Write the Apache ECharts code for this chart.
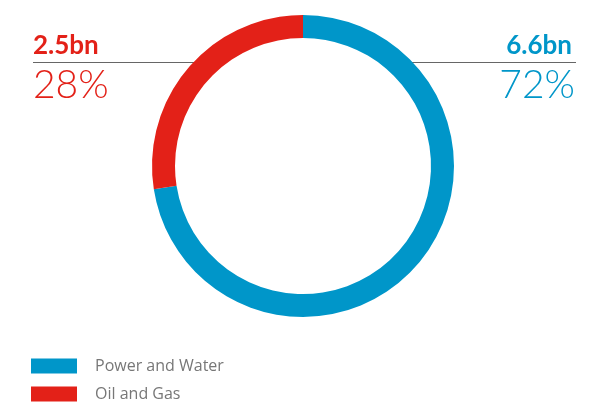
<!DOCTYPE html>
<html><head><meta charset="utf-8">
<script src="https://cdn.jsdelivr.net/npm/echarts@6/dist/echarts.min.js"></script>
<style>html,body{margin:0;padding:0;background:#fff}#c{width:610px;height:403px}</style>
</head><body><div id="c"></div>
<script>
var categories = ['Power and Water', 'Oil and Gas'];
var values = [6.6, 2.5];
var valueLabels = ['6.6bn', '2.5bn'];
var pctLabels = ['72%', '28%'];
var colors = ['#0096c9', '#e32118'];

var chart = echarts.init(document.getElementById('c'), null, {renderer: 'canvas'});
var font = 'Lato, "Open Sans", sans-serif';
chart.setOption({
  animation: false,
  color: colors,
  legend: {
    orient: 'vertical', left: 31, top: 358, padding: 0,
    itemWidth: 46, itemHeight: 15, itemGap: 12,
    icon: 'rect',
    selectedMode: false,
    textStyle: {color: '#777', fontSize: 16, fontFamily: '"Open Sans", sans-serif', padding: [0, 0, 0, 13]},
    data: categories
  },
  graphic: [
    {type: 'line', z: 0, shape: {x1: 33, y1: 62.5, x2: 200, y2: 62.5}, style: {stroke: '#666', lineWidth: 1}},
    {type: 'line', z: 0, shape: {x1: 405, y1: 62.5, x2: 576, y2: 62.5}, style: {stroke: '#666', lineWidth: 1}},
    {type: 'text', left: 33, top: 33, style: {text: valueLabels[1], fill: colors[1], font: 'bold 26px ' + font}},
    {type: 'text', left: 33, top: 66, style: {text: pctLabels[1], fill: colors[1], font: '300 39px ' + font}},
    {type: 'text', right: 38, top: 33, style: {text: valueLabels[0], fill: colors[0], font: 'bold 26px ' + font}},
    {type: 'text', right: 35, top: 66, style: {text: pctLabels[0], fill: colors[0], font: '300 39px ' + font}}
  ],
  series: [{
    type: 'pie',
    z: 5,
    center: [303, 166],
    radius: [128, 151],
    startAngle: 90,
    clockwise: true,
    label: {show: false},
    labelLine: {show: false},
    emphasis: {disabled: true},
    itemStyle: {borderWidth: 0},
    data: categories.map(function (c, i) { return {name: c, value: values[i]}; })
  }]
});
</script></body></html>
